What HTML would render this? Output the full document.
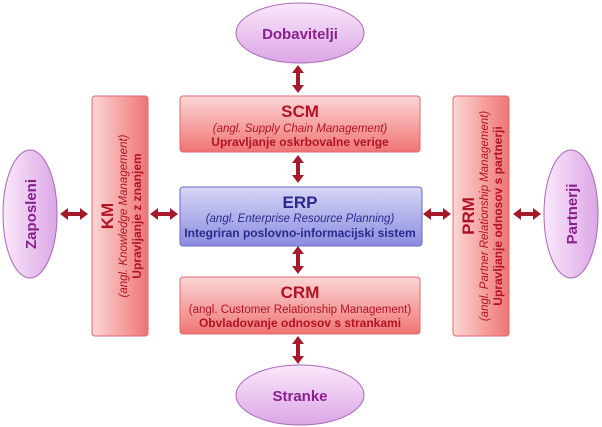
<!DOCTYPE html>
<html><head><meta charset="utf-8"><style>html,body{margin:0;padding:0;background:#fff}svg{display:block}text{font-family:"Liberation Sans",sans-serif}</style></head><body>
<svg width="602" height="427" viewBox="0 0 602 427" xmlns="http://www.w3.org/2000/svg">
<defs>
<linearGradient id="rv" x1="0" y1="0" x2="0" y2="1"><stop offset="0" stop-color="#fcd6d6"/><stop offset="1" stop-color="#f07474"/></linearGradient>
<linearGradient id="rh" x1="0" y1="0" x2="1" y2="0"><stop offset="0" stop-color="#fcd6d6"/><stop offset="1" stop-color="#f07474"/></linearGradient>
<linearGradient id="bv" x1="0" y1="0" x2="0" y2="1"><stop offset="0" stop-color="#d6d6f6"/><stop offset="1" stop-color="#8c8ce0"/></linearGradient>
<linearGradient id="ev" x1="0" y1="0" x2="0" y2="1"><stop offset="0" stop-color="#fae8fa"/><stop offset="1" stop-color="#dca6e6"/></linearGradient>
<linearGradient id="eh" x1="0" y1="0" x2="1" y2="0"><stop offset="0" stop-color="#fae8fa"/><stop offset="1" stop-color="#dca6e6"/></linearGradient>
<g id="av"><path d="M0,-14 L-6,-6 L-2,-6 L-2,6 L-6,6 L0,14 L6,6 L2,6 L2,-6 L6,-6 Z" fill="#a51a2a"/></g>
<g id="ah"><path d="M-14,0 L-6,-6 L-6,-2 L6,-2 L6,-6 L14,0 L6,6 L6,2 L-6,2 L-6,6 Z" fill="#a51a2a"/></g>
</defs>
<ellipse cx="300" cy="33" rx="64" ry="30" fill="url(#ev)" stroke="#a868b8"/>
<text x="300" y="39" text-anchor="middle" font-size="15" font-weight="bold" fill="#8a2090">Dobavitelji</text>
<ellipse cx="300" cy="395" rx="64" ry="30" fill="url(#ev)" stroke="#a868b8"/>
<text x="300" y="401" text-anchor="middle" font-size="15" font-weight="bold" fill="#8a2090">Stranke</text>
<ellipse cx="30" cy="214" rx="27" ry="64" fill="url(#eh)" stroke="#a868b8"/>
<text transform="translate(36,214) rotate(-90)" text-anchor="middle" font-size="15" font-weight="bold" fill="#8a2090">Zaposleni</text>
<ellipse cx="571" cy="214" rx="27" ry="64" fill="url(#eh)" stroke="#a868b8"/>
<text transform="translate(577,214) rotate(-90)" text-anchor="middle" font-size="15" font-weight="bold" fill="#8a2090">Partnerji</text>

<rect x="180" y="96" width="240" height="56" rx="3" fill="url(#rv)" stroke="#e06a6a"/>
<text x="300" y="117" text-anchor="middle" font-size="17" font-weight="bold" fill="#b01424">SCM</text>
<text x="300" y="132" text-anchor="middle" font-size="11.5" font-style="italic" fill="#b01424">(angl. Supply Chain Management)</text>
<text x="300" y="146" text-anchor="middle" font-size="12" font-weight="bold" fill="#b01424">Upravljanje oskrbovalne verige</text>

<rect x="180" y="187" width="242" height="59" rx="3" fill="url(#bv)" stroke="#6a6ac0"/>
<text x="300" y="208" text-anchor="middle" font-size="17" font-weight="bold" fill="#2a2a8c">ERP</text>
<text x="300" y="222" text-anchor="middle" font-size="11.5" font-style="italic" fill="#2a2a8c">(angl. Enterprise Resource Planning)</text>
<text x="300" y="237" text-anchor="middle" font-size="12" font-weight="bold" fill="#2a2a8c">Integriran poslovno-informacijski sistem</text>

<rect x="180" y="277" width="240" height="57" rx="3" fill="url(#rv)" stroke="#e06a6a"/>
<text x="300" y="298" text-anchor="middle" font-size="17" font-weight="bold" fill="#b01424">CRM</text>
<text x="300" y="313" text-anchor="middle" font-size="11.5" fill="#b01424">(angl. Customer Relationship Management)</text>
<text x="300" y="327" text-anchor="middle" font-size="12" font-weight="bold" fill="#b01424">Obvladovanje odnosov s strankami</text>

<rect x="92" y="96" width="56" height="240" rx="3" fill="url(#rh)" stroke="#e06a6a"/>
<text transform="translate(113,216) rotate(-90)" text-anchor="middle" font-size="17" font-weight="bold" fill="#b01424">KM</text>
<text transform="translate(127,216) rotate(-90)" text-anchor="middle" font-size="11.5" font-style="italic" fill="#b01424">(angl. Knowledge Management)</text>
<text transform="translate(141,216) rotate(-90)" text-anchor="middle" font-size="12" font-weight="bold" fill="#b01424">Upravljanje z znanjem</text>

<rect x="453" y="96" width="56" height="240" rx="3" fill="url(#rh)" stroke="#e06a6a"/>
<text transform="translate(474,216) rotate(-90)" text-anchor="middle" font-size="17" font-weight="bold" fill="#b01424">PRM</text>
<text transform="translate(488,216) rotate(-90)" text-anchor="middle" font-size="11.5" font-style="italic" fill="#b01424">(angl. Partner Relationship Management)</text>
<text transform="translate(502,216) rotate(-90)" text-anchor="middle" font-size="12" font-weight="bold" fill="#b01424">Upravljanje odnosov s partnerji</text>

<use href="#av" x="298" y="79"/>
<use href="#av" x="298" y="169"/>
<use href="#av" x="298" y="260"/>
<use href="#av" x="298" y="350"/>
<use href="#ah" x="74" y="214"/>
<use href="#ah" x="164" y="214"/>
<use href="#ah" x="437" y="214"/>
<use href="#ah" x="527" y="214"/>
</svg>
</body></html>
